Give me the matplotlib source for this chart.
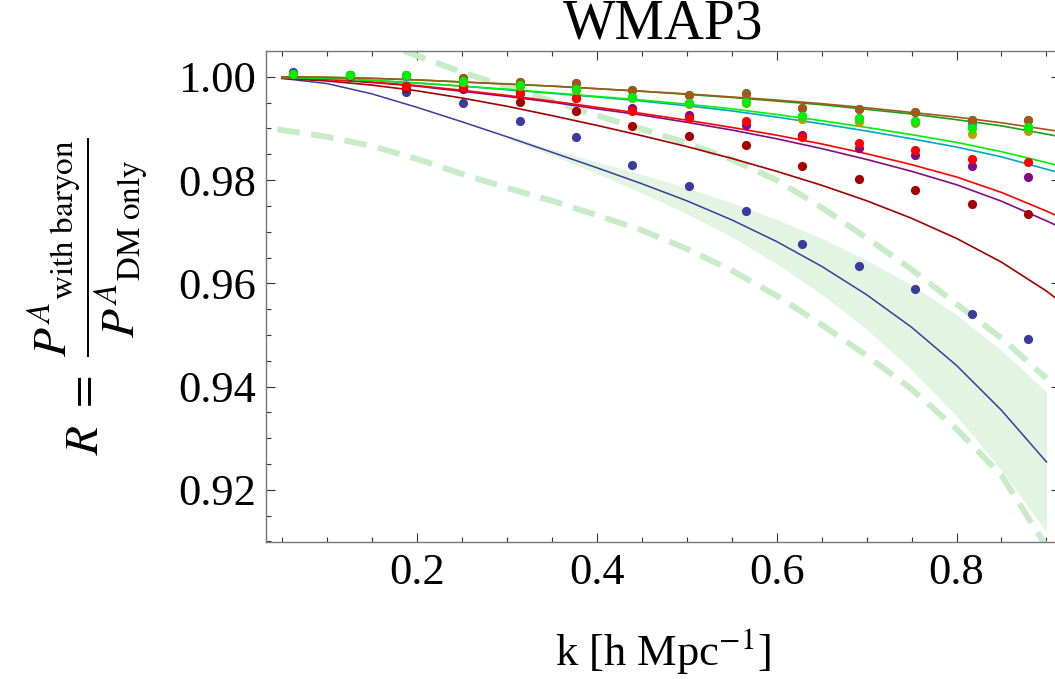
import matplotlib
matplotlib.use("Agg")
import matplotlib.pyplot as plt
from matplotlib.ticker import MultipleLocator, FormatStrFormatter

plt.rcParams["font.family"] = ["Liberation Serif", "DejaVu Serif"]
plt.rcParams["mathtext.fontset"] = "stix"

# simulation points (k_n = 2 pi n / 100)
k_sim = [0.0628, 0.1257, 0.1885, 0.2513, 0.3142, 0.3770, 0.4398,
         0.5027, 0.5655, 0.6283, 0.6912, 0.7540, 0.8168, 0.8796]

dots = {
    "blue":      [1.0009, 1.0003, 0.9971, 0.9950, 0.9915, 0.9884, 0.9830,
                  0.9789, 0.9740, 0.9677, 0.9634, 0.9589, 0.9541, 0.9493],
    "darkred":   [1.0005, 1.0002, 0.9979, 0.9976, 0.9952, 0.9934, 0.9905,
                  0.9885, 0.9867, 0.9828, 0.9803, 0.9780, 0.9754, 0.9735],
    "purple":    [1.0005, 1.0003, 0.9983, 0.9978, 0.9968, 0.9958, 0.9939,
                  0.9926, 0.9906, 0.9887, 0.9863, 0.9848, 0.9827, 0.9806],
    "red":       [1.0005, 1.0003, 0.9983, 0.9980, 0.9969, 0.9958, 0.9934,
                  0.9921, 0.9915, 0.9884, 0.9871, 0.9858, 0.9840, 0.9835],
    "yellow":    [1.0005, 1.0003, 1.0002, 0.9990, 0.9983, 0.9975, 0.9958,
                  0.9948, 0.9950, 0.9918, 0.9912, 0.9910, 0.9890, 0.9895],
    "cyan":      [1.0005, 1.0003, 1.0002, 0.9991, 0.9984, 0.9976, 0.9960,
                  0.9950, 0.9952, 0.9924, 0.9921, 0.9914, 0.9908, 0.9902],
    "darkgreen": [1.0005, 1.0003, 1.0004, 0.9997, 0.9990, 0.9988, 0.9974,
                  0.9965, 0.9969, 0.9940, 0.9937, 0.9931, 0.9916, 0.9916],
    "brown":     [1.0005, 1.0003, 1.0003, 0.9997, 0.9990, 0.9988, 0.9974,
                  0.9965, 0.9967, 0.9940, 0.9937, 0.9931, 0.9916, 0.9916],
    "lime":      [1.0005, 1.0003, 1.0003, 0.9991, 0.9985, 0.9976, 0.9960,
                  0.9950, 0.9952, 0.9924, 0.9921, 0.9914, 0.9900, 0.9902],
}

# model curves
k_fit = [0.05, 0.10, 0.15, 0.20, 0.25, 0.30, 0.35, 0.40, 0.45, 0.50,
         0.55, 0.60, 0.65, 0.70, 0.75, 0.80, 0.85, 0.90, 0.915]

fits = {
    "darkred":   [0.9997, 0.9992, 0.9984, 0.9973, 0.9959, 0.9943, 0.9925, 0.9906, 0.9886, 0.9865,
                  0.9842, 0.9817, 0.9790, 0.9760, 0.9726, 0.9687, 0.9641, 0.9585, 0.9565],
    "purple":    [0.9998, 0.9995, 0.9989, 0.9982, 0.9972, 0.9962, 0.9951, 0.9938, 0.9926, 0.9912,
                  0.9897, 0.9880, 0.9861, 0.9840, 0.9817, 0.9791, 0.9759, 0.9721, 0.9709],
    "red":       [0.9998, 0.9995, 0.9990, 0.9983, 0.9974, 0.9964, 0.9953, 0.9941, 0.9929, 0.9916,
                  0.9902, 0.9887, 0.9870, 0.9851, 0.9830, 0.9806, 0.9776, 0.9740, 0.9728],
    "cyan":      [0.9999, 0.9997, 0.9993, 0.9988, 0.9982, 0.9975, 0.9968, 0.9961, 0.9953, 0.9944,
                  0.9934, 0.9922, 0.9909, 0.9895, 0.9880, 0.9864, 0.9845, 0.9821, 0.9814],
    "lime":      [0.9999, 0.9997, 0.9993, 0.9988, 0.9982, 0.9976, 0.9969, 0.9962, 0.9955, 0.9947,
                  0.9938, 0.9927, 0.9915, 0.9902, 0.9888, 0.9873, 0.9855, 0.9834, 0.9827],
    "darkgreen": [1.0000, 0.9999, 0.9997, 0.9994, 0.9990, 0.9986, 0.9982, 0.9977, 0.9972, 0.9966,
                  0.9960, 0.9953, 0.9946, 0.9937, 0.9928, 0.9917, 0.9905, 0.9889, 0.9884],
    "brown":     [1.0000, 0.9999, 0.9997, 0.9994, 0.9990, 0.9986, 0.9982, 0.9977, 0.9972, 0.9967,
                  0.9961, 0.9955, 0.9948, 0.9940, 0.9931, 0.9922, 0.9911, 0.9898, 0.9894],
}

k_blue = [0.05, 0.10, 0.15, 0.20, 0.25, 0.30, 0.35, 0.40, 0.45, 0.50,
          0.55, 0.60, 0.65, 0.70, 0.75, 0.80, 0.85, 0.90]
fit_blue = [0.9997, 0.9987, 0.9967, 0.9941, 0.9913, 0.9884, 0.9854, 0.9824, 0.9793, 0.9760,
            0.9723, 0.9681, 0.9633, 0.9578, 0.9515, 0.9441, 0.9354, 0.9254]

# shaded band around the blue curve
k_band = [0.30, 0.35, 0.40, 0.45, 0.50, 0.55, 0.60, 0.65, 0.70, 0.75, 0.80, 0.85, 0.90]
band_hi = [0.9887, 0.9860, 0.9835, 0.9811, 0.9785, 0.9756, 0.9724, 0.9687, 0.9645, 0.9597,
           0.9539, 0.9470, 0.9390]
band_lo = [0.9881, 0.9848, 0.9813, 0.9775, 0.9735, 0.9690, 0.9638, 0.9579, 0.9511, 0.9433,
           0.9343, 0.9238, 0.9118]

# dashed bounds
k_up = [0.15, 0.20, 0.25, 0.30, 0.35, 0.40, 0.45, 0.50, 0.55, 0.60, 0.65, 0.70, 0.75,
        0.80, 0.85, 0.90]
dash_up = [1.0072, 1.0041, 1.0009, 0.9981, 0.9953, 0.9925, 0.9899, 0.9872, 0.9840, 0.9800,
           0.9747, 0.9688, 0.9627, 0.9560, 0.9494, 0.9416]
k_lo = [0.045, 0.10, 0.15, 0.20, 0.25, 0.30, 0.35, 0.40, 0.45, 0.50, 0.55, 0.60, 0.65,
        0.70, 0.75, 0.80, 0.85, 0.90]
dash_lo = [0.9898, 0.9884, 0.9866, 0.9841, 0.9812, 0.9785, 0.9760, 0.9732, 0.9703, 0.9667,
           0.9625, 0.9576, 0.9520, 0.9460, 0.9395, 0.9318, 0.9228, 0.9090]

colors = {
    "blue": "#3b3b9b",
    "darkred": "#a50000",
    "purple": "#850a85",
    "red": "#ff0000",
    "yellow": "#b5a300",
    "cyan": "#00a8c4",
    "lime": "#00f000",
    "darkgreen": "#13a013",
    "brown": "#a5561a",
}

fig = plt.figure(figsize=(10.55, 6.79), dpi=100)
ax = fig.add_axes([0.2518, 0.2018, 0.7529, 0.7231])

band_col = "#e2f4e2"
dash_col = "#c8ecc8"

ax.fill_between(k_band, band_lo, band_hi, color=band_col, lw=0, zorder=1)
ax.plot(k_up, dash_up, color=dash_col, lw=4.3, ls=(0, (3.8, 1.9)), zorder=2)
ax.plot(k_lo, dash_lo, color=dash_col, lw=4.3, ls=(0, (3.8, 1.9)), zorder=2)

ax.plot(k_blue, fit_blue, color=colors["blue"], lw=1.1, zorder=3)
for name, vals in fits.items():
    ax.plot(k_fit, vals, color=colors[name], lw=1.2, zorder=3)

for i, (name, vals) in enumerate(dots.items()):
    ax.plot(k_sim, vals, "o", color=colors[name], ms=6.6, mew=0, zorder=4 + i * 0.01)

ax.set_xlim(0.032, 0.915)
ax.set_ylim(0.9099, 1.005)

ax.xaxis.set_major_locator(MultipleLocator(0.2))
ax.xaxis.set_minor_locator(MultipleLocator(0.05))
ax.yaxis.set_major_locator(MultipleLocator(0.02))
ax.yaxis.set_minor_locator(MultipleLocator(0.005))
ax.xaxis.set_major_formatter(FormatStrFormatter("%.1f"))
ax.yaxis.set_major_formatter(FormatStrFormatter("%.2f"))

ax.tick_params(which="both", direction="in", top=True, right=True, color="#333333", width=0.8)
ax.tick_params(which="major", length=6.5, labelsize=32)
ax.tick_params(which="minor", length=3.8)
ax.tick_params(axis="x", pad=8)
ax.tick_params(axis="y", pad=7)
for sp in ax.spines.values():
    sp.set_color("#777777")
    sp.set_linewidth(1.0)

ax.set_title("WMAP3", fontsize=40, pad=5)
ax.set_xlabel(r"k [h Mpc$^{-1}$]", fontsize=32)
ax.xaxis.set_label_coords(0.5, -0.172)
ax.xaxis.label.set_va("top")
ax.set_ylabel(r"$R\ =\ \dfrac{{P^{A}}_{\mathrm{with\ baryon}}}{{P^{A}}_{\mathrm{DM\ only}}}$",
              fontsize=34)
ax.yaxis.set_label_coords(-0.145, 0.5)

fig.savefig("out.png", dpi=100)
